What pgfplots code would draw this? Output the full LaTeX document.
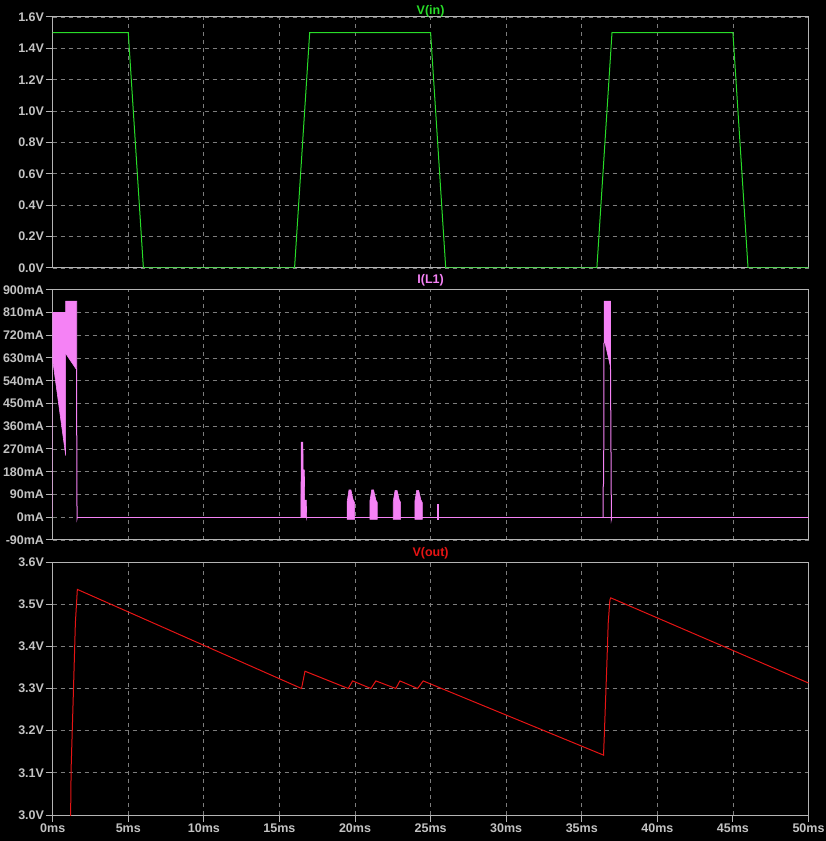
\documentclass[border=0pt]{standalone}
\usepackage{pgfplots}
\pgfplotsset{compat=1.18}
\usepackage{fontspec}
\setmainfont{Liberation Sans}
\definecolor{framec}{RGB}{180,180,180}
\definecolor{gridc}{RGB}{125,125,125}
\definecolor{labc}{RGB}{195,195,195}
\definecolor{vin}{RGB}{40,220,40}
\definecolor{il}{RGB}{245,130,245}
\definecolor{vout}{RGB}{230,20,20}
\pgfplotsset{ltsp/.style={
  scale only axis, anchor=south west, width=755.8bp,
  xmin=0,xmax=50, xtick={0,5,...,50},
  grid=major, major grid style={draw=gridc, dash pattern=on 4bp off 4bp, line width=0.8bp},
  axis line style={draw=framec, line width=1bp},
  tick style={draw=framec, line width=1bp},
  tick align=outside, major tick length=7bp,
  xtick pos=bottom, ytick pos=left,
  ticklabel style={font=\fontsize{12.5bp}{14bp}\selectfont\bfseries, text=labc},
  yticklabel style={inner sep=1.5bp},
  xticklabel style={inner sep=2bp},
  /pgf/number format/assume math mode=true,
  title style={at={(0.5,1)}, anchor=center, font=\fontsize{12.5bp}{14bp}\selectfont\bfseries},
  clip=true,
}}
\begin{document}
\begin{tikzpicture}
\fill[black] (0,0) rectangle (826bp,841bp);
% ---------- V(in)
\begin{axis}[ltsp, at={(52.7bp,573bp)}, height=251bp,
  ymin=0, ymax=1.6, ytick={0,0.2,...,1.6},
  yticklabel={\pgfmathprintnumber[fixed,fixed zerofill,precision=1]{\tick}V},
  xticklabels={}, x tick style={draw=none},
  title={V(in)}, title style={text=vin, yshift=0bp}]
\addplot[vin, line width=1bp] coordinates {
(0,1.5) (5,1.5) (6,0) (16,0) (17,1.5) (25,1.5) (26,0) (36,0) (37,1.5) (45,1.5) (46,0) (50,0)};
\end{axis}
% ---------- I(L1)
\begin{axis}[ltsp, at={(52.7bp,301bp)}, height=250.3bp,
  ymin=-90, ymax=900, ytick={-90,0,...,900},
  yticklabel={\pgfmathprintnumber[fixed,precision=0]{\tick}mA},
  xticklabels={}, x tick style={draw=none},
  title={I(L1)}, title style={text=il, yshift=3bp}]
% baseline
\addplot[il, line width=1bp] coordinates {(1.6,0) (50,0)};
% first burst
\addplot[il, line width=1bp] coordinates {(0,0) (0,622)};
\addplot[draw=il, fill=il, line width=0.6bp] coordinates {
(0,622) (0,810) (0.86,810) (0.86,855) (1.59,855) (1.59,585) (1.52,589) (0.86,648) (0.86,244)} -- cycle;
\addplot[il, line width=1bp] coordinates {(1.59,585) (1.59,338) (1.60,195) (1.61,-5) (1.63,0)};
% spike near 16.5 ms
\addplot[draw=il, fill=il, line width=0.6bp] coordinates {
(16.42,0) (16.44,297) (16.55,297) (16.57,187) (16.65,187) (16.67,68) (16.78,68) (16.80,-5) (16.82,0)} -- cycle;
% bumps
\addplot[draw=il, fill=il, line width=0.6bp] coordinates {
(19.48,-8) (19.48,62) (19.55,88) (19.60,108) (19.73,108) (19.80,88) (19.88,68) (19.97,58) (19.97,-8)} -- cycle;
\addplot[draw=il, fill=il, line width=0.6bp] coordinates {
(20.98,-8) (20.98,62) (21.05,88) (21.10,108) (21.23,108) (21.30,88) (21.38,68) (21.47,58) (21.47,-8)} -- cycle;
\addplot[draw=il, fill=il, line width=0.6bp] coordinates {
(22.53,-8) (22.53,62) (22.60,88) (22.65,106) (22.78,106) (22.85,88) (22.93,68) (23.02,58) (23.02,-8)} -- cycle;
\addplot[draw=il, fill=il, line width=0.6bp] coordinates {
(23.96,-8) (23.96,62) (24.03,88) (24.08,106) (24.21,106) (24.28,88) (24.36,68) (24.45,58) (24.45,-8)} -- cycle;
\addplot[draw=il, fill=il, line width=0.6bp] coordinates {
(25.44,-7) (25.44,53) (25.50,53) (25.50,-7)} -- cycle;
% burst near 36.7 ms
\addplot[il, line width=1bp] coordinates {(36.41,0) (36.42,120) (36.45,140) (36.47,690)};
\addplot[draw=il, fill=il, line width=0.6bp] coordinates {
(36.48,690) (36.48,855) (36.90,855) (36.90,595) (36.55,688)} -- cycle;
\addplot[il, line width=1bp] coordinates {(36.90,595) (36.91,500) (36.93,300) (36.96,-6) (36.98,0)};
\end{axis}
% ---------- V(out)
\begin{axis}[ltsp, at={(52.7bp,26bp)}, height=253bp,
  ymin=3.0, ymax=3.6, ytick={3.0,3.1,...,3.6},
  yticklabel={\pgfmathprintnumber[fixed,fixed zerofill,precision=1]{\tick}V},
  xticklabel={\pgfmathprintnumber{\tick}ms},
  title={V(out)}, title style={text=vout, yshift=3bp}]
\addplot[vout, line width=1bp] coordinates {
(1.17,2.95) (1.22,3.112) (1.37,3.292) (1.50,3.455) (1.63,3.535)
(16.46,3.300) (16.69,3.341) (19.55,3.300) (19.84,3.318) (21.05,3.300) (21.38,3.318)
(22.70,3.300) (22.97,3.318) (24.14,3.300) (24.51,3.318)
(36.44,3.142) (36.48,3.178) (36.64,3.336) (36.75,3.455) (36.86,3.510) (36.92,3.515) (50,3.313)};
\end{axis}
\pgfresetboundingbox
\path[use as bounding box] (0,0) rectangle (826bp,841bp);
\end{tikzpicture}
\end{document}
